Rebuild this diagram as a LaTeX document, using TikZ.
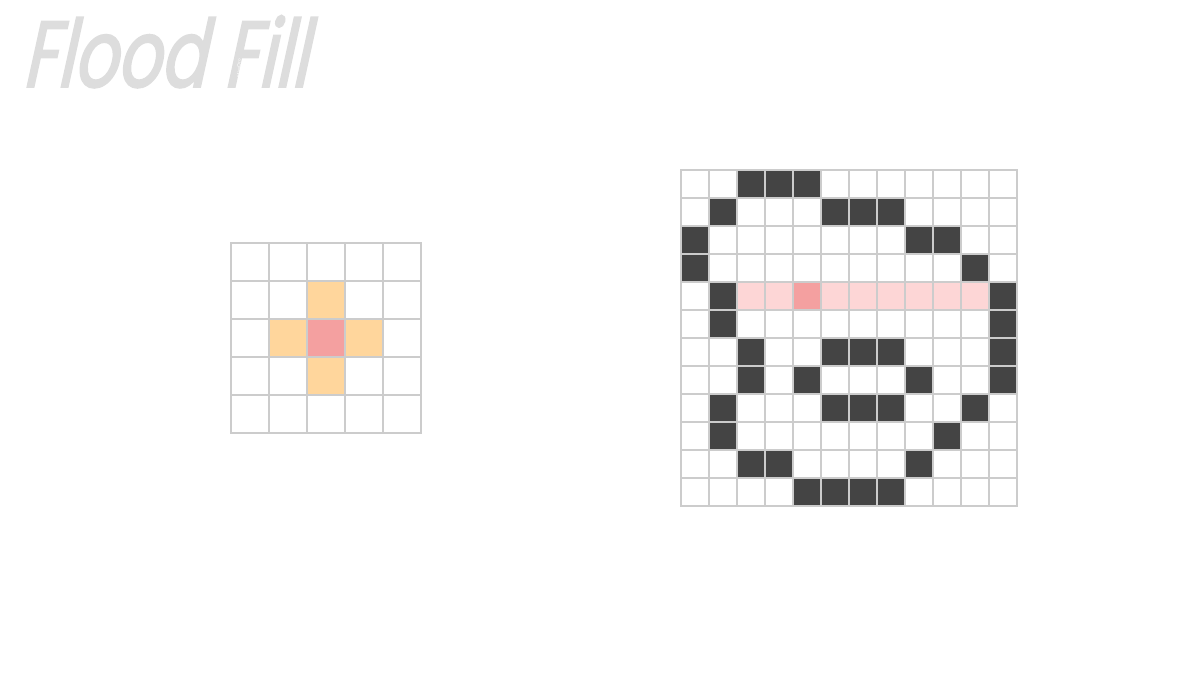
\documentclass[tikz,border=0pt]{standalone}
\usepackage{fontspec}
\newfontfamily\titlefont[FakeSlant=0.22,FakeStretch=0.72,FakeBold=2]{Poppins}
\definecolor{gridc}{HTML}{CCCCCC}
\definecolor{darkc}{HTML}{444444}
\definecolor{orangec}{HTML}{FFD69C}
\definecolor{pinkc}{HTML}{F4A0A0}
\definecolor{lpinkc}{HTML}{FDD6D6}
\definecolor{titlec}{HTML}{DDDDDD}
\begin{document}
\begin{tikzpicture}[x=1pt,y=-1pt,
  gridline/.style={draw=gridc,line width=2pt,line cap=rect}]
\useasboundingbox (0,0) rectangle (1200,675);
% title
\node[anchor=base west,inner sep=0,text=titlec,font=\titlefont\fontsize{94}{94}\selectfont] (title) at (22,87) {Flood Fill};
\node[rotate=90,text=white,inner sep=0,font=\sffamily\fontsize{5}{5}\selectfont] (mark) at (239,68) {MimOro};
% left grid: 5x5, cell 38, origin (231,243)
\begin{scope}[shift={(231,243)}]
  \foreach \r/\c in {1/2,2/1,2/3,3/2}
    \fill[orangec] (\c*38,\r*38) rectangle ++(38,38);
  \fill[pinkc] (2*38,2*38) rectangle ++(38,38);
  \foreach \i in {0,...,5} {
    \draw[gridline] (\i*38,0) -- (\i*38,190);
    \draw[gridline] (0,\i*38) -- (190,\i*38);
  }
  \node[inner sep=0,minimum size=190pt,anchor=north west] (small) at (0,0) {};
\end{scope}
% right grid: 12x12, cell 28, origin (681,170)
\begin{scope}[shift={(681,170)}]
  \foreach \c in {2,...,10}
    \fill[lpinkc] (\c*28,4*28) rectangle ++(28,28);
  \fill[pinkc] (4*28,4*28) rectangle ++(28,28);
  \foreach \r/\c in {0/2,0/3,0/4,
    1/1,1/5,1/6,1/7,
    2/0,2/8,2/9,
    3/0,3/10,
    4/1,4/11,
    5/1,5/11,
    6/2,6/5,6/6,6/7,6/11,
    7/2,7/4,7/8,7/11,
    8/1,8/5,8/6,8/7,8/10,
    9/1,9/9,
    10/2,10/3,10/8,
    11/4,11/5,11/6,11/7}
    \fill[darkc] (\c*28,\r*28) rectangle ++(28,28);
  \foreach \i in {0,...,12} {
    \draw[gridline] (\i*28,0) -- (\i*28,336);
    \draw[gridline] (0,\i*28) -- (336,\i*28);
  }
  \node[inner sep=0,minimum size=336pt,anchor=north west] (big) at (0,0) {};
\end{scope}
\end{tikzpicture}
\end{document}
